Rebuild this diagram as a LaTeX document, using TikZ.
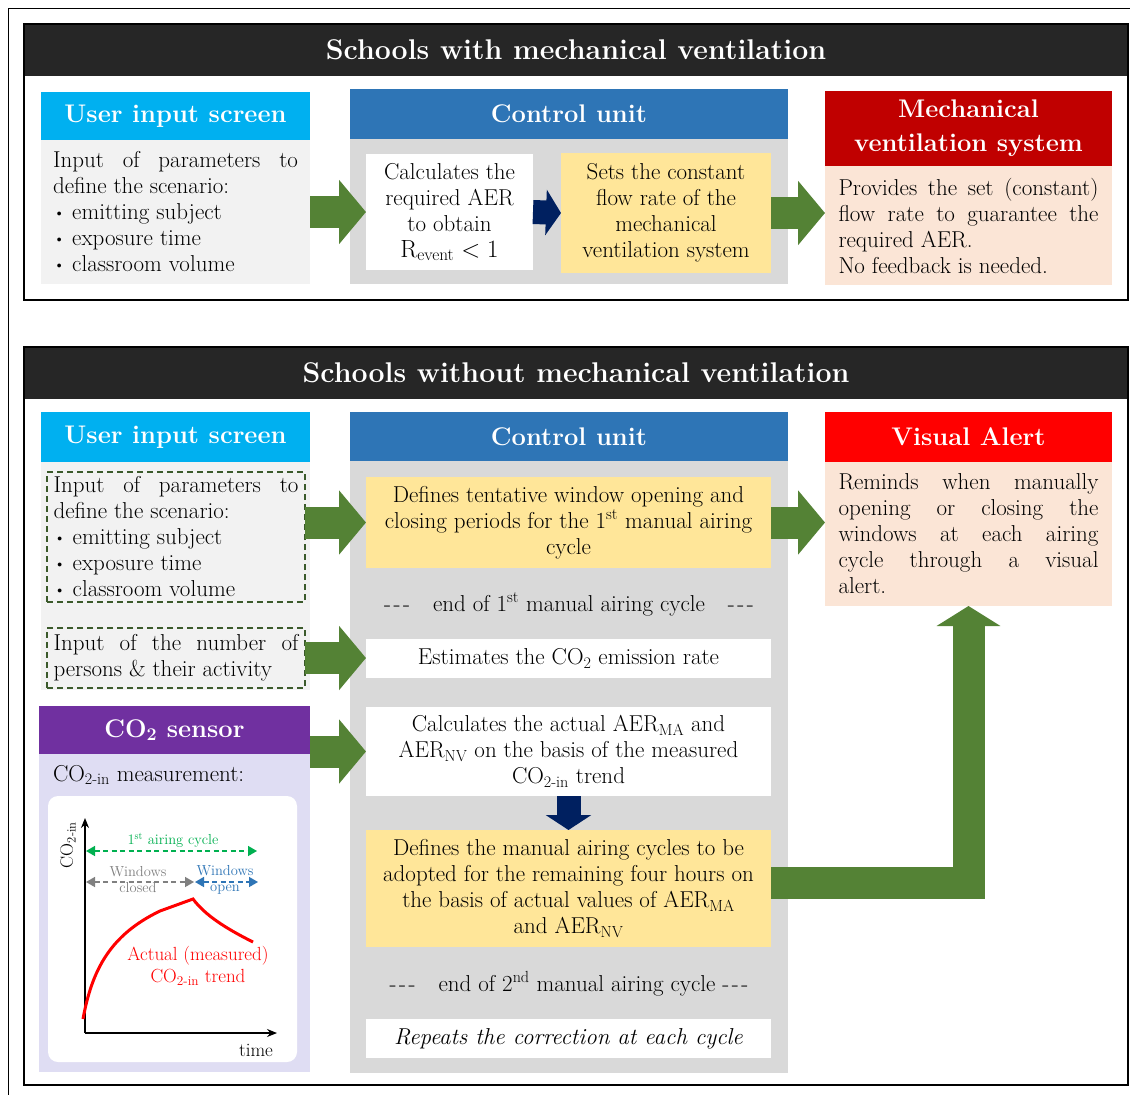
\documentclass[tikz,border=0pt]{standalone}
\usetikzlibrary{arrows.meta}
\definecolor{titlebg}{HTML}{262626}
\definecolor{cyanhd}{HTML}{00B0F0}
\definecolor{bluehd}{HTML}{2E75B6}
\definecolor{darkredhd}{HTML}{C00000}
\definecolor{redhd}{HTML}{FF0000}
\definecolor{purplehd}{HTML}{7030A0}
\definecolor{lightgray}{HTML}{F2F2F2}
\definecolor{midgray}{HTML}{D9D9D9}
\definecolor{yellowbx}{HTML}{FFE699}
\definecolor{peach}{HTML}{FBE5D6}
\definecolor{lavender}{HTML}{DFDDF3}
\definecolor{arrgreen}{HTML}{548235}
\definecolor{dashgreen}{HTML}{3B5A2B}
\definecolor{navyarr}{HTML}{002060}
\definecolor{airgreen}{HTML}{00B050}
\newcommand{\bodyfont}{\fontsize{23}{26}\selectfont}
\newcommand{\headfont}{\fontsize{25.5}{34}\selectfont\bfseries}
\newcommand{\titlefont}{\fontsize{28.5}{32}\selectfont\bfseries}
\newcommand{\chartfont}{\fontsize{14.5}{16}\selectfont}
\newcommand{\tripledash}{-\kern2.5pt-\kern2.5pt-}
\newcommand{\itm}{\kern-1.5pt\raisebox{1pt}{\fontsize{17}{17}\selectfont\textbullet}\ }
\begin{document}
\begin{tikzpicture}[x=1pt,y=-1pt,
  box/.style={anchor=north west,inner sep=0pt,outer sep=0pt,align=center,font=\bodyfont},
  sz/.style 2 args={minimum width=#1,minimum height=#2},
  head/.style={box,fill=#1,text=white,font=\headfont},
  title/.style={box,fill=titlebg,text=white,font=\titlefont},
  frame/.style={box,draw,line width=1.3pt},
  dashbox/.style={box,draw=dashgreen,line width=1.2pt,dash pattern=on 6pt off 4pt,align=justify,text width=245pt},
  bigarrow/.style={draw=arrgreen,line width=32pt,-{Triangle[width=63pt,length=27pt]}},
  navyarrow/.style={draw=navyarr,line width=24pt,-{Triangle[width=45pt,length=15pt]}},
  cyclearrow/.style={line width=1.5pt,dash pattern=on 5pt off 3.5pt,{Triangle[width=10pt,length=9pt]}-{Triangle[width=10pt,length=9pt]}}]
\useasboundingbox (0,0) rectangle (1130,1095);
\draw[line width=1pt] (1140,8) -- (8,8) -- (8,1100);

% schools with mechanical ventilation
\node[title,sz={1104}{52}] (titleA) at (24,24) {Schools with mechanical ventilation};
\node[frame,sz={1104}{276}] (frameA) at (24,24) {};
\node[head=cyanhd,sz={269}{48}] (uisA) at (41,92) {User input screen};
\node[box,sz={269}{144},fill=lightgray,align=justify,text width=245pt] (uisAbody) at (41,140)
  {Input of parameters to\linebreak define the scenario:\\\itm emitting subject\\\itm exposure time\\\itm classroom volume};
\node[head=bluehd,sz={438}{50}] (cuA) at (350,89) {Control unit};
\node[box,sz={438}{145},fill=midgray] (cuAbody) at (350,139) {};
\node[box,sz={167}{116},fill=white] (calcA) at (366,154) {Calculates the\\required AER\\to obtain\\$\mathrm{R}_{\mathrm{event}}<1$};
\node[box,sz={210}{120},fill=yellowbx] (setA) at (561,153) {Sets the constant\\flow rate of the\\mechanical\\ventilation system};
\node[head=darkredhd,sz={287}{75}] (mvs) at (825,91) {Mechanical\\ventilation system};
\node[box,sz={287}{119},fill=peach,align=justify,text width=260pt] (mvsbody) at (825,166)
  {Provides the set (constant)\linebreak flow rate to guarantee the\linebreak required AER.\\No feedback is needed.};
\draw[bigarrow] (uisAbody.east) -- (calcA.west);
\draw[navyarrow] (calcA.east) -- (setA.west);
\draw[bigarrow] (setA.east) -- (setA.east -| mvsbody.west);

% schools without mechanical ventilation
\node[title,sz={1104}{52}] (titleB) at (24,347) {Schools without mechanical ventilation};
\node[frame,sz={1104}{738}] (frameB) at (24,347) {};
\node[head=cyanhd,sz={269}{50}] (uisB) at (41,412) {User input screen};
\node[box,sz={269}{228},fill=lightgray] (uisBbody) at (41,462) {};
\node[dashbox,sz={258}{130}] (scen) at (47,472)
  {Input of parameters to\linebreak define the scenario:\\\itm emitting subject\\\itm exposure time\\\itm classroom volume};
\node[dashbox,sz={258}{60}] (pers) at (47,628) {Input of the number of\linebreak persons \& their activity};

\node[head=purplehd,sz={271}{48}] (sens) at (39,706) {CO\textsubscript{2} sensor};
\node[box,sz={271}{318},fill=lavender] (sensbody) at (39,754) {};
\node[box,anchor=west] (meas) at (53,775) {CO\textsubscript{2-in} measurement:};
\node[box,sz={249}{266},fill=white,rounded corners=10pt] (chart) at (48,796) {};

% chart
\coordinate (O) at (85,1033);
\draw[line width=1.3pt,-{Stealth[length=10pt,width=8pt]}] (O) -- (85,818);
\draw[line width=1.3pt,-{Stealth[length=10pt,width=8pt]}] (O) -- (277,1033);
\node[font=\fontsize{18}{20}\selectfont,rotate=90] (ylab) at (68,845) {CO\textsubscript{2-in}};
\node[font=\fontsize{19}{20}\selectfont] (xlab) at (256,1050) {time};
\draw[cyclearrow,airgreen] (86,851) -- (257,851);
\node[font=\chartfont,text=airgreen] (airlab) at (173,840) {1\textsuperscript{st} airing cycle};
\draw[cyclearrow,gray] (86,882) -- (194,882);
\node[font=\chartfont,text=gray,align=center] (closedlab) at (138,880) {Windows\\closed};
\draw[cyclearrow,bluehd] (195,882) -- (258,882);
\node[font=\chartfont,text=bluehd,align=center] (openlab) at (225,880) {Windows\\open};
\draw[red,line width=3pt] (83,1019) .. controls (92,970) and (110,935) .. (160,911) -- (193,899)
  .. controls (205,915) and (225,928) .. (253,942);
\node[font=\fontsize{19}{22}\selectfont,text=red,align=center] (trendlab) at (198,966) {Actual (measured)\\CO\textsubscript{2-in} trend};

\node[head=bluehd,sz={438}{49}] (cuB) at (350,412) {Control unit};
\node[box,sz={438}{612},fill=midgray] (cuBbody) at (350,461) {};
\node[box,sz={405}{91},fill=yellowbx] (tent) at (366,477)
  {Defines tentative window opening and\\closing periods for the 1\textsuperscript{st} manual airing\\cycle};
\node[box,anchor=center] (end1) at (569,604) {\tripledash\quad end of 1\textsuperscript{st} manual airing cycle\quad \tripledash};
\node[box,sz={405}{39},fill=white] (est) at (366,639) {Estimates the CO\textsubscript{2} emission rate};
\node[box,sz={405}{89},fill=white] (calcB) at (366,707)
  {Calculates the actual AER\textsubscript{MA} and\\AER\textsubscript{NV} on the basis of the measured\\CO\textsubscript{2-in} trend};
\node[box,sz={405}{117},fill=yellowbx] (cyc) at (366,830)
  {Defines the manual airing cycles to be\\adopted for the remaining four hours on\\the basis of actual values of AER\textsubscript{MA}\\and AER\textsubscript{NV}};
\node[box,anchor=center] (end2) at (569,984) {\tripledash\quad end of 2\textsuperscript{nd} manual airing cycle \tripledash};
\node[box,sz={405}{39},fill=white] (rep) at (366,1019) {\textit{Repeats the correction at each cycle}};

\node[head=redhd,sz={287}{50}] (va) at (825,412) {Visual Alert};
\node[box,sz={287}{144},fill=peach,align=justify,text width=260pt] (vabody) at (825,462)
  {Reminds when manually\linebreak opening or closing the\linebreak windows at each airing\linebreak cycle through a visual\linebreak alert.};

\draw[bigarrow] (scen.east |- tent.west) -- (tent.west);
\draw[bigarrow] (pers.east) -- (pers.east -| est.west);
\draw[bigarrow] (sens.east |- calcB.west) -- (calcB.west);
\draw[bigarrow] (tent.east) -- (tent.east -| vabody.west);
\draw[navyarrow] (calcB.south) -- (cyc.north);
\draw[bigarrow,-{Triangle[width=63pt,length=20pt]}] ([yshift=6pt]cyc.east) -| (vabody.south);

\end{tikzpicture}
\end{document}
